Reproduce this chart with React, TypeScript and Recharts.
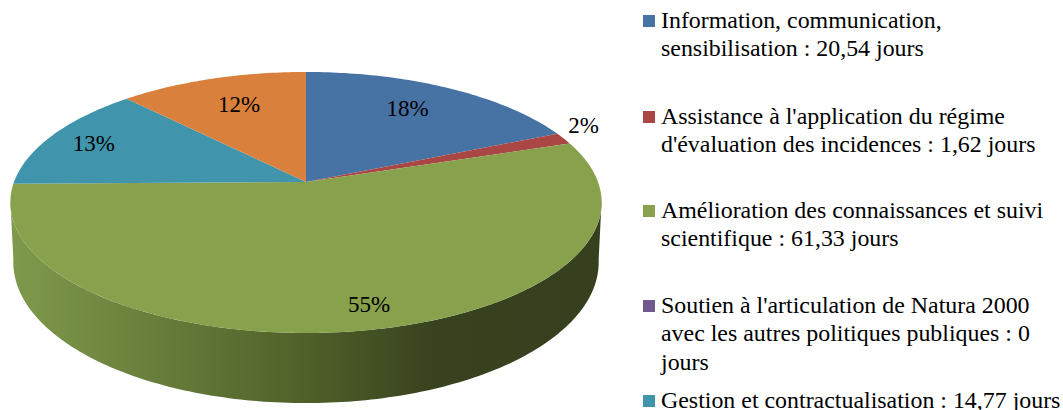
import { Legend, Pie, PieChart } from "recharts"

const CATEGORIES = [
  "Information, communication, sensibilisation : 20,54 jours",
  "Assistance à l'application du régime d'évaluation des incidences : 1,62 jours",
  "Amélioration des connaissances et suivi scientifique : 61,33 jours",
  "Soutien à l'articulation de Natura 2000 avec les autres politiques publiques : 0 jours",
  "Gestion et contractualisation : 14,77 jours",
  "", // sixth legend entry is cut off by the picture
]
const VALUES = [20.54, 1.62, 61.33, 0, 14.77, 13.4]
const PERCENTS = ["18%", "2%", "55%", "", "13%", "12%"]
const COLORS = ["#4672a4", "#aa4644", "#87a14d", "#71588f", "#4095ad", "#d8803c"]

const data = CATEGORIES.map((name, i) => ({ name, value: VALUES[i], fill: COLORS[i] }))

const FONT = "'Liberation Serif', 'Times New Roman', serif"
const WIDTH = 1063
const HEIGHT = 410

// perspective projection of the pie disc
const CX = 306
const CY = 182
const RX = 292
const RY = 127.3
const P = 0.157
const RAD = Math.PI / 180

function project(angle: number, r = 1) {
  const u = Math.cos(angle * RAD)
  const v = Math.sin(angle * RAD)
  const w = 1 + P * r * v
  return { x: CX + (RX * r * u) / w, y: CY - (RY * r * v) / w }
}

function projectBottom(angle: number) {
  const u = Math.cos(angle * RAD)
  const v = Math.sin(angle * RAD)
  const w = 1 + P * v
  return { x: CX + (RX * 0.99 * u) / w, y: CY - (RY * 1.08 * v) / w + 58 }
}

function arcAngles(from: number, to: number) {
  const steps = Math.max(2, Math.ceil(Math.abs(to - from)))
  const out: number[] = []
  for (let i = 0; i <= steps; i++) out.push(from + ((to - from) * i) / steps)
  return out
}

function TopSlice(props: any) {
  const { startAngle, endAngle, fill } = props
  if (startAngle === endAngle) return null
  const pts = arcAngles(startAngle, endAngle).map((a) => project(a))
  const d =
    `M${CX},${CY} ` + pts.map((p) => `L${p.x.toFixed(2)},${p.y.toFixed(2)}`).join(" ") + " Z"
  return <path d={d} fill={fill} stroke="none" />
}

function WallSlice(props: any) {
  const { startAngle, endAngle } = props
  // only the front of the rim can be seen, between the two widest points
  const hi = Math.min(startAngle, -8)
  const lo = Math.max(endAngle, -172)
  if (lo >= hi) return null
  const angles = arcAngles(hi, lo)
  const top = angles.map((a) => project(a))
  const bottom = angles.map((a) => projectBottom(a)).reverse()
  const d =
    [...top, ...bottom]
      .map((p, i) => `${i === 0 ? "M" : "L"}${p.x.toFixed(2)},${p.y.toFixed(2)}`)
      .join(" ") + " Z"
  return (
    <g>
      <defs>
        <linearGradient id="wallFill" gradientUnits="userSpaceOnUse" x1="10" y1="0" x2="602" y2="0">
          <stop offset="0" stopColor="#7f9a4c" />
          <stop offset="0.5" stopColor="#506029" />
          <stop offset="0.72" stopColor="#38421f" />
          <stop offset="1" stopColor="#37401e" />
        </linearGradient>
      </defs>
      <path d={d} fill="url(#wallFill)" stroke="none" />
    </g>
  )
}

// radius factor and angle shift of each percent label
const LABEL_RADIUS = [0.74, 1.13, 0.855, 0, 0.825, 0.72]
const LABEL_SHIFT = [2, 4, 3, 0, 0.5, -1]

function PercentLabel(props: any) {
  const { midAngle, index } = props
  if (!PERCENTS[index]) return null
  const p = project(midAngle + LABEL_SHIFT[index], LABEL_RADIUS[index])
  return (
    <text
      x={p.x}
      y={p.y}
      textAnchor="middle"
      dominantBaseline="central"
      fontFamily={FONT}
      fontSize={23}
      fill="#000"
    >
      {PERCENTS[index]}
    </text>
  )
}

const LEGEND_TOPS = [6, 102, 196, 291, 386]

function LegendList({ payload }: any) {
  // both pies report their slices: keep one entry per category, in category order
  const items = CATEGORIES.filter(Boolean).map((name) =>
    (payload ?? []).find((entry: any) => entry.value === name),
  )
  return (
    <div style={{ position: "relative", width: 421, height: HEIGHT, fontFamily: FONT }}>
      {items.map((entry: any, i: number) =>
        entry ? (
          <div
            key={entry.value}
            style={{ position: "absolute", left: 0, top: LEGEND_TOPS[i], width: 421 }}
          >
            <span
              style={{
                position: "absolute",
                left: 1,
                top: 9,
                width: 12,
                height: 12,
                background: entry.color,
              }}
            />
            <div
              style={{
                marginLeft: 19,
                width: 402,
                fontSize: 23.9,
                lineHeight: "28.4px",
                color: "#000",
              }}
            >
              {entry.value}
            </div>
          </div>
        ) : null,
      )}
    </div>
  )
}

export default function App() {
  return (
    <div
      style={{
        position: "absolute",
        left: 0,
        top: 0,
        width: WIDTH,
        height: HEIGHT,
        overflow: "hidden",
        background: "#fff",
      }}
    >
      <PieChart width={WIDTH} height={HEIGHT} margin={{ top: 0, right: 0, bottom: 0, left: 0 }}>
        <Pie
          data={data}
          dataKey="value"
          nameKey="name"
          cx={CX}
          cy={CY}
          outerRadius={RX}
          startAngle={90}
          endAngle={-270}
          stroke="none"
          legendType="none"
          shape={WallSlice}
          isAnimationActive={false}
        />
        <Pie
          data={data}
          dataKey="value"
          nameKey="name"
          cx={CX}
          cy={CY}
          outerRadius={RX}
          startAngle={90}
          endAngle={-270}
          stroke="none"
          shape={TopSlice}
          label={PercentLabel}
          labelLine={false}
          isAnimationActive={false}
        />
        <Legend
          layout="vertical"
          align="right"
          verticalAlign="top"
          itemSorter={null}
          content={LegendList}
          wrapperStyle={{ left: 642, top: 0, width: 421, height: HEIGHT }}
        />
      </PieChart>
    </div>
  )
}
